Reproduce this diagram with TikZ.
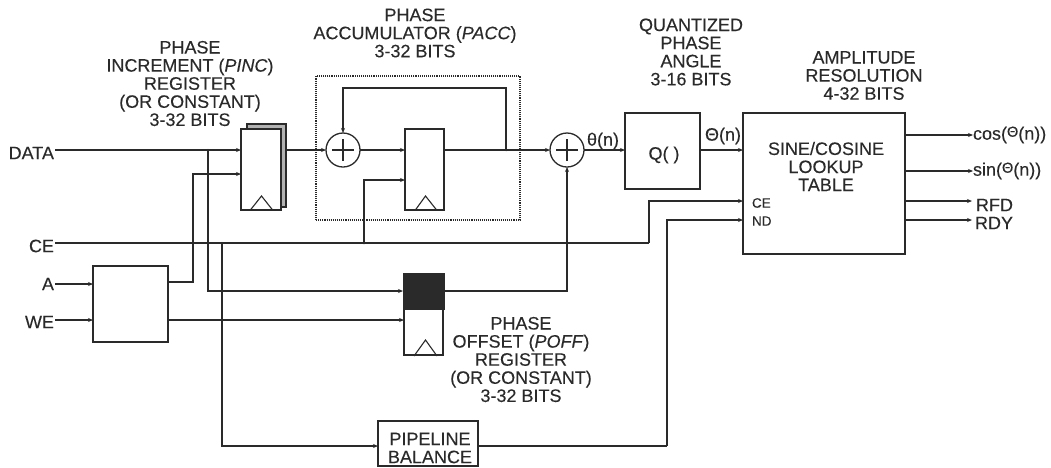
\documentclass[tikz,border=0pt]{standalone}
\usepackage{fontspec}
\setmainfont{Liberation Sans}[FakeBold=0.15]
\usetikzlibrary{arrows.meta,calc}
\definecolor{ink}{HTML}{2A2A2A}
\newcommand{\bigTh}{{\fontsize{14.5}{14.5}\selectfont\raisebox{3pt}{Θ}}}
\tikzset{
  x=1pt,y=-1pt,
  every node/.style={inner sep=0pt,outer sep=0pt,text=ink,font=\fontsize{18}{18.1}\selectfont},
  box/.style={draw=ink,line width=1.3pt,fill=white},
  wire/.style={draw=ink,line width=1.2pt},
  arr/.style={wire,-{Stealth[length=5pt,width=4pt]}},
  clk/.style={draw=ink,line width=1.1pt,line join=miter},
  dot/.style={circle,fill=ink,minimum size=3pt},
  lab/.style={align=center},
  sumnode/.style={circle,draw=ink,line width=1.3pt,fill=white,minimum size=34pt},
  inlabel/.style={anchor=east},
  outlabel/.style={anchor=west},
}
\begin{document}
\begin{tikzpicture}
\useasboundingbox[fill=white] (0,0) rectangle (1051,467);
% dotted frame
\node (pacc) [draw=ink,line width=1.1pt,densely dotted,minimum width=204pt,minimum height=144pt] at (418,148) {};
% pinc register
\node (regback) [draw=ink,line width=1.2pt,fill=black!30,minimum width=39pt,minimum height=83pt] at (266.5,165.5) {};
\node (reg1) [box,minimum width=40pt,minimum height=81pt] at (261,169.5) {};
\node (reg2) [box,minimum width=39pt,minimum height=81pt] at (424.5,169.5) {};
\node (poffblack) [draw=ink,fill=ink,line width=1pt,minimum width=41pt,minimum height=36pt] at (423.5,291) {};
\node (poff) [box,minimum width=39pt,minimum height=46pt] at (423.5,332) {};
\node (qbox) [box,minimum width=75pt,minimum height=76pt] at (662.5,151) {};
\node (lut) [box,minimum width=162pt,minimum height=141pt] at (824,183.5) {};
\node (dec) [box,minimum width=75pt,minimum height=76pt] at (130.5,304) {};
\node (pipe) [box,minimum width=100pt,minimum height=45pt] at (428,443.5) {};
\node (pipetxt) [lab] at (430,448) {PIPELINE\\BALANCE};
% clock triangles
\draw[clk] (250,210.5) -- (261.5,196) -- (273,210.5);
\draw[clk] (415,210.5) -- (425.5,196) -- (437,210.5);
\draw[clk] (414,356) -- (425.5,340) -- (437,356);
% adders
\node (add1) [sumnode] at (343,150) {};
\node (add2) [sumnode] at (567,150) {};
\draw[wire] (add1.center) +(-11,0) -- +(11,0) (add1.center) +(0,-11) -- +(0,11);
\draw[wire] (add2.center) +(-11,0) -- +(11,0) (add2.center) +(0,-11) -- +(0,11);
% input labels
\node (data) [inlabel] at (54,153) {DATA};
\node (ce) [inlabel] at (54,246) {CE};
\node (a) [inlabel] at (54,284) {A};
\node (we) [inlabel] at (54,322) {WE};
% named coordinates
\coordinate (dataS) at (55,150);
\coordinate (ceS) at (55,243);
\coordinate (aS) at (55,284);
\coordinate (weS) at (55,320);
\coordinate (j1) at (208,150);
\coordinate (j2) at (222,243);
\coordinate (j3) at (364,243);
\coordinate (j4) at (506,150);
\coordinate (fbTop) at (506,88);
\coordinate (deco) at (168,282);
\coordinate (ceL) at (649,243);
\coordinate (ndL) at (667,446);
% connectors
\draw[arr] (dataS) -- (dataS -| reg1.west);
\draw[arr] (j1) |- (poffblack.west);
\draw[arr] (deco) -- (193,282) |- (reg1.west |- 0,174);
\draw[arr] (aS) -- (aS -| dec.west);
\draw[arr] (weS) -- (weS -| dec.west);
\draw[arr] (dec.east |- weS) -- (weS -| poff.west);
\draw[arr] (regback.east |- dataS) -- (add1.west);
\draw[arr] (add1.east) -- (add1 -| reg2.west);
\draw[arr] (reg2.east |- add1) -- (add2.west);
\draw[arr] (j4) -- (fbTop) -| (add1.north);
\draw[arr] (j3) |- (reg2.west |- 0,180);
\draw[wire] (ceS) -- (ceL);
\draw[arr] (ceL) |- (lut.west |- 0,201);
\draw[arr] (j2) |- (pipe.west |- 0,446);
\draw[wire] (pipe.east |- ndL) -- (ndL);
\draw[arr] (ndL) |- (lut.west |- 0,220);
\draw[arr] (poffblack.east) -| (add2.south);
\draw[arr] (add2.east) -- (add2 -| qbox.west);
\draw[arr] (qbox.east |- add2) -- (add2 -| lut.west);
% outputs
\node (cos) [outlabel] at (973,135) {cos(\bigTh(n))};
\node (sin) [outlabel] at (973,171) {sin(\bigTh(n))};
\node (rfd) [outlabel] at (976,205) {RFD};
\node (rdy) [outlabel] at (975,223) {RDY};
\draw[arr] (lut.east |- cos) -- (cos.west);
\draw[arr] (lut.east |- sin) -- (sin.west);
\draw[arr] (lut.east |- 0,201) -- (972,201);
\draw[arr] (lut.east |- 0,220) -- (972,220);
% junctions
\foreach \p in {j1,j2,j3,j4} \node[dot,minimum size=2.5pt] at (\p) {};
% labels
\node (lpinc) [lab] at (190,83.5) {PHASE\\INCREMENT (\textit{PINC})\\REGISTER\\(OR CONSTANT)\\3-32 BITS};
\node (lpacc) [lab] at (415,33) {PHASE\\ACCUMULATOR (\textit{PACC})\\3-32 BITS};
\node (lq) [lab] at (691,52) {QUANTIZED\\PHASE\\ANGLE\\3-16 BITS};
\node (lamp) [lab] at (864,75.5) {AMPLITUDE\\RESOLUTION\\4-32 BITS};
\node (lpoff) [lab] at (521,359.5) {PHASE\\OFFSET (\textit{POFF})\\REGISTER\\(OR CONSTANT)\\3-32 BITS};
\node (llut) [lab] at (826,166.5) {SINE/COSINE\\LOOKUP\\TABLE};
\node (qtxt) at (664,155) {Q( )};
\node (theta) [anchor=west] at (587,141) {θ(n)};
\node (Theta) [anchor=west] at (705,136) {Θ(n)};
\node (lce) [anchor=west,font=\fontsize{13.5}{13.5}\selectfont] at (752,203) {CE};
\node (lnd) [anchor=west,font=\fontsize{13.5}{13.5}\selectfont] at (752,221) {ND};
\end{tikzpicture}
\end{document}
